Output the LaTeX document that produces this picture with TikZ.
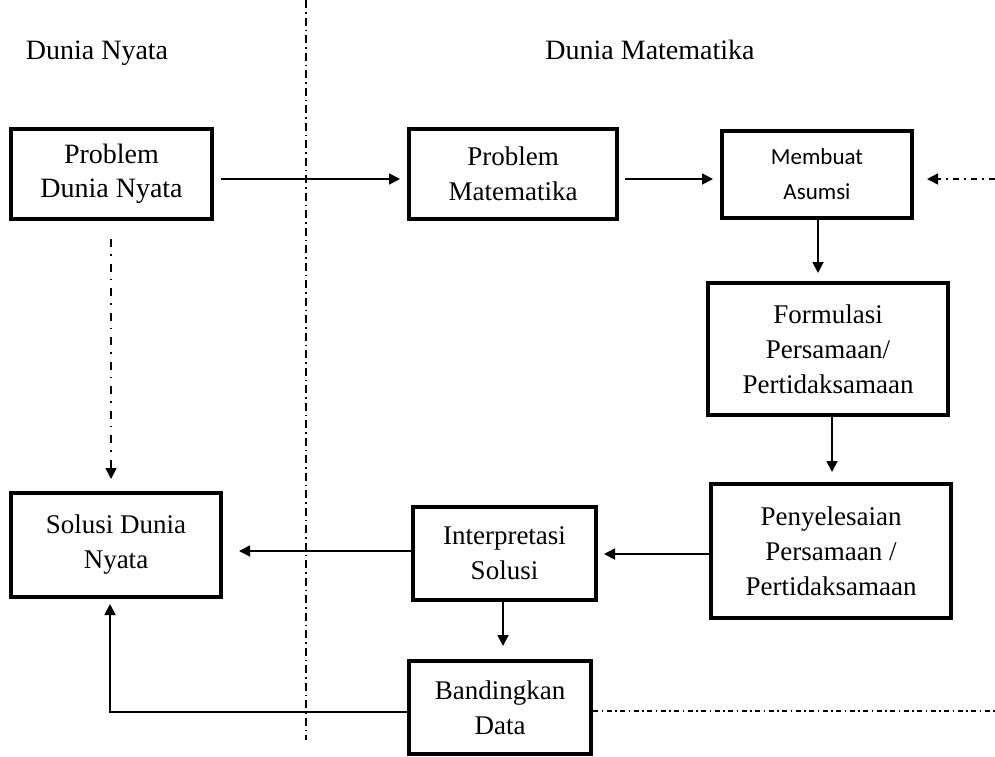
\documentclass[tikz,border=0pt]{standalone}
\usepackage{fontspec}
\setmainfont{Liberation Serif}
\newfontfamily\calfont{Carlito}
\usetikzlibrary{arrows.meta}
\begin{document}
\begin{tikzpicture}[x=1pt,y=-1pt,
  box/.style={draw, line width=4pt, inner sep=0pt, align=center,
    font=\fontsize{27}{35}\selectfont},
  hdr/.style={anchor=base, inner sep=0pt, font=\fontsize{28}{34}\selectfont},
  tip/.style={-{Triangle[length=11pt,width=11pt]}},
  arr/.style={tip, line width=1.8pt},
  divider/.style={line width=1.6pt, dash pattern=on 8pt off 4pt on 1.5pt off 4pt},
  dashdotA/.style={tip, line width=1.6pt, dash pattern=on 8pt off 7pt on 1.5pt off 8pt},
  dashdotB/.style={tip, line width=1.6pt, dash pattern=on 6pt off 5pt on 2pt off 5pt},
  dashdotC/.style={line width=1.6pt, dash pattern=on 5pt off 3.5pt on 1.5pt off 3.5pt}
]
\useasboundingbox (0,0) rectangle (995,756);

% headers
\node[hdr] (hnyata) at (97,59) {Dunia Nyata};
\node[hdr] (hmat) at (650,59) {Dunia Matematika};

% divider
\coordinate (dtop) at (306,0);
\coordinate (dbot) at (306,740);
\draw[divider] (dtop) -- (dbot);

% boxes
\node[box, font=\fontsize{28}{34}\selectfont, minimum width=201pt, minimum height=90pt] (pdn) at (111.5,174) {Problem\\Dunia Nyata};
\node[box, minimum width=208pt, minimum height=90pt] (pm) at (513,174) {Problem\\Matematika};
\node[box, font=\calfont\fontsize{23}{35}\selectfont, minimum width=190pt, minimum height=87pt] (ma) at (817,174.5) {Membuat\\Asumsi};
\node[box, minimum width=240pt, minimum height=132pt] (fp) at (828,349) {Formulasi\\Persamaan/\\Pertidaksamaan};
\node[box, minimum width=240pt, minimum height=134pt] (pp) at (831,551) {Penyelesaian\\Persamaan /\\Pertidaksamaan};
\node[box, minimum width=183pt, minimum height=93pt] (is) at (504.5,553.5) {Interpretasi\\Solusi};
\node[box, minimum width=182pt, minimum height=93pt] (bd) at (500,707.5) {Bandingkan\\Data};
\node[box, minimum width=210pt, minimum height=104pt] (sdn) at (116,545) {Solusi Dunia\\Nyata};

% connectors
\draw[arr, shorten <=7pt, shorten >=7pt] ([yshift=-5pt]pdn.east) -- ([yshift=-5pt]pm.west);
\draw[arr, shorten <=6pt, shorten >=7pt] ([yshift=-5pt]pm.east) -- ([yshift=-4.5pt]ma.west);
\coordinate (rin) at (995,179);
\draw[dashdotB, shorten >=13pt] (rin) -- (rin -| ma.east);
\draw[arr, shorten >=8pt] ([xshift=1pt]ma.south) -- ([xshift=1pt]ma.south |- fp.north);
\draw[arr, shorten >=10pt] ([xshift=4pt]fp.south) -- ([xshift=4pt]fp.south |- pp.north);
\draw[arr, shorten >=6pt] ([yshift=-3pt]pp.west) -- ([yshift=-3pt]pp.west -| is.east);
\draw[arr, shorten >=16pt] ([yshift=2.5pt]is.west) -- ([yshift=2.5pt]is.west -| sdn.east);
\draw[arr, shorten >=13pt] ([xshift=-1.5pt]is.south) -- ([xshift=-1.5pt]is.south |- bd.north);
\coordinate (bl) at (110,712);
\draw[arr, shorten >=5pt] (bd.west |- bl) -- (bl) -- (bl |- sdn.south);
\draw[dashdotA, shorten <=18pt, shorten >=12pt] ([xshift=-0.5pt]pdn.south) -- ([xshift=-0.5pt]pdn.south |- sdn.north);
\coordinate (br) at (995,711);
\draw[dashdotC] (bd.east |- br) -- (br);
\end{tikzpicture}
\end{document}
